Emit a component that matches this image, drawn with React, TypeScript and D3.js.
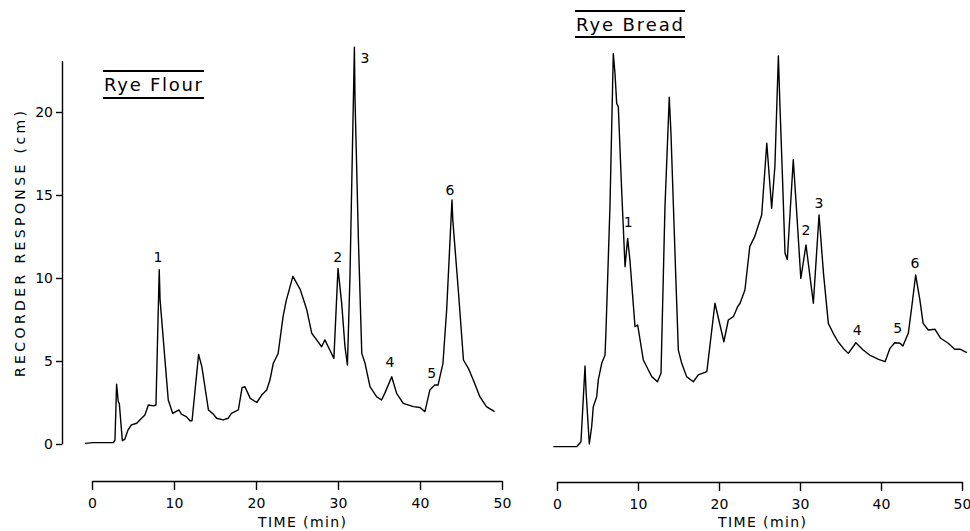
import React, { useEffect, useRef } from 'react';
import * as d3 from 'd3';

// Rye flour chromatogram (time in min, response in cm)
const flourTime = [-0.85, 0.16, 2.6, 2.8, 3.0, 3.2, 3.33, 3.7, 4.0, 4.4, 4.8, 5.45, 6.05, 6.45, 6.87, 7.5, 7.8, 8.2, 8.3, 8.9, 9.3, 9.84, 10.6, 10.9, 11.5, 11.95, 12.2, 13.0, 13.4, 14.2, 14.8, 15.2, 16.0, 16.6, 17.0, 17.85, 18.3, 18.65, 19.3, 20.1, 20.7, 21.3, 21.7, 22.1, 22.7, 23.3, 23.7, 24.5, 25.4, 26.2, 26.8, 27.4, 28.0, 28.4, 29.0, 29.5, 30.0, 30.45, 30.85, 31.15, 31.46, 32.0, 32.07, 32.5, 32.9, 33.3, 33.9, 34.7, 35.3, 35.7, 36.55, 37.15, 37.96, 39.2, 40.0, 40.6, 41.2, 41.8, 42.2, 42.8, 43.25, 43.9, 44.0, 44.7, 45.3, 45.9, 46.5, 47.3, 48.1, 49.1];
const flourResponse = [0.04, 0.08, 0.08, 0.24, 3.6, 2.55, 2.45, 0.2, 0.28, 0.85, 1.15, 1.25, 1.55, 1.75, 2.35, 2.3, 2.35, 10.5, 8.7, 5.05, 2.65, 1.85, 2.05, 1.8, 1.65, 1.4, 1.4, 5.4, 4.65, 2.05, 1.8, 1.55, 1.45, 1.55, 1.85, 2.05, 3.4, 3.45, 2.75, 2.5, 2.95, 3.25, 3.85, 4.85, 5.45, 7.67, 8.67, 10.1, 9.3, 8.07, 6.67, 6.27, 5.86, 6.27, 5.66, 5.16, 10.58, 8.47, 5.86, 4.76, 10.1, 23.9, 20.9, 12.1, 5.46, 4.86, 3.45, 2.85, 2.65, 3.05, 4.05, 3.05, 2.45, 2.25, 2.2, 1.95, 3.25, 3.55, 3.55, 4.86, 8.07, 14.7, 13.5, 9.08, 5.06, 4.56, 3.86, 2.85, 2.25, 1.95];

// Rye bread chromatogram
const breadTime = [-0.45, 2.43, 2.96, 3.46, 3.58, 3.99, 4.28, 4.48, 4.9, 5.1, 5.52, 5.93, 6.05, 6.54, 6.95, 7.16, 7.37, 7.57, 7.98, 8.4, 8.72, 9.0, 9.63, 9.96, 10.66, 11.28, 11.7, 12.4, 12.84, 13.33, 13.86, 14.07, 14.65, 14.98, 15.4, 16.0, 16.83, 17.44, 18.5, 19.5, 20.6, 21.15, 21.77, 22.3, 22.6, 23.2, 23.8, 24.4, 25.27, 25.9, 26.5, 26.9, 27.33, 27.53, 27.86, 28.15, 28.43, 29.17, 29.6, 30.1, 30.74, 31.65, 32.35, 32.9, 33.5, 34.1, 34.7, 35.35, 35.96, 36.9, 37.8, 38.6, 39.7, 40.5, 41.1, 41.7, 42.35, 42.7, 43.37, 43.8, 44.28, 44.8, 45.2, 45.84, 46.67, 47.37, 48.3, 49.1, 49.75, 50.6];
const breadResponse = [0.02, 0.02, 0.32, 4.88, 3.43, 0.18, 1.22, 2.43, 3.03, 4.04, 5.04, 5.54, 7.05, 14.5, 23.7, 22.5, 20.7, 20.5, 15.5, 10.86, 12.57, 11.27, 7.25, 7.35, 5.24, 4.64, 4.24, 3.93, 4.44, 14.48, 21.07, 18.9, 10.46, 5.84, 5.04, 4.24, 3.93, 4.34, 4.54, 8.66, 6.34, 7.65, 7.85, 8.45, 8.66, 9.46, 12.07, 12.67, 13.98, 18.3, 14.38, 16.9, 23.55, 20.5, 15.9, 11.67, 11.3, 17.3, 14.08, 10.16, 12.17, 8.66, 13.98, 10.46, 7.45, 6.85, 6.34, 5.94, 5.64, 6.28, 5.84, 5.54, 5.28, 5.14, 5.94, 6.28, 6.25, 6.08, 6.85, 8.45, 10.36, 8.86, 7.45, 7.05, 7.09, 6.55, 6.25, 5.89, 5.89, 5.68];

// numbered peak labels (label centre, data units)
const peakNames = ['1', '2', '3', '4', '5', '6'];
const flourLabelTime = [8.05, 29.96, 33.3, 36.34, 41.43, 43.66];
const flourLabelResp = [11.27, 11.28, 23.25, 4.96, 4.26, 15.3];
const breadLabelTime = [8.8, 30.74, 32.35, 37.07, 42.06, 44.2];
const breadLabelResp = [13.57, 13.07, 14.7, 7.05, 7.17, 11.08];

const timeTicks = [0, 10, 20, 30, 40, 50];
const responseTicks = [0, 5, 10, 15, 20];

const FONT = "'DejaVu Sans', sans-serif";

const App = () => {
  const ref = useRef<SVGSVGElement>(null);

  useEffect(() => {
    const svg = d3.select(ref.current);
    svg.selectAll('*').remove();

    const xL = d3.scaleLinear().domain([0, 50]).range([92, 502]);
    const xR = d3.scaleLinear().domain([0, 50]).range([557, 962]);
    const yL = d3.scaleLinear().domain([0, 23.1]).range([444, 444 - 23.1 * 16.6]);
    const yR = d3.scaleLinear().domain([0, 23.1]).range([447, 447 - 23.1 * 16.6]);

    const styleAxis = (g: any) => {
      g.selectAll('path, line').attr('stroke', '#000').attr('stroke-width', 1.4);
      g.selectAll('text')
        .attr('font-family', FONT)
        .attr('font-size', 14)
        .attr('fill', '#000');
    };

    // y axis (left panel only)
    svg
      .append('g')
      .attr('transform', 'translate(62,0)')
      .call(d3.axisLeft(yL).tickValues(responseTicks).tickSize(6).tickSizeOuter(0).tickPadding(3))
      .call(styleAxis);

    // x axes
    svg
      .append('g')
      .attr('transform', 'translate(0,481)')
      .call(d3.axisBottom(xL).tickValues(timeTicks).tickSize(9).tickSizeOuter(0).tickPadding(8))
      .call(styleAxis);
    svg
      .append('g')
      .attr('transform', 'translate(0,482)')
      .call(d3.axisBottom(xR).tickValues(timeTicks).tickSize(9).tickSizeOuter(0).tickPadding(8))
      .call(styleAxis);

    const panels = [
      { t: flourTime, r: flourResponse, lt: flourLabelTime, lr: flourLabelResp, x: xL, y: yL },
      { t: breadTime, r: breadResponse, lt: breadLabelTime, lr: breadLabelResp, x: xR, y: yR }
    ];

    panels.forEach(p => {
      const line = d3
        .line<number>()
        .x((d, i) => p.x(p.t[i]))
        .y(d => p.y(d));
      svg
        .append('path')
        .datum(p.r)
        .attr('d', line)
        .attr('fill', 'none')
        .attr('stroke', '#000')
        .attr('stroke-width', 1.4)
        .attr('stroke-linejoin', 'round');

      svg
        .selectAll(null)
        .data(peakNames)
        .enter()
        .append('text')
        .attr('x', (d, i) => p.x(p.lt[i]))
        .attr('y', (d, i) => p.y(p.lr[i]))
        .attr('dy', '0.36em')
        .attr('text-anchor', 'middle')
        .attr('font-family', FONT)
        .attr('font-size', 14)
        .text(d => d);
    });

    // titles with rules above and below
    const titles = [
      { text: 'Rye Flour', x: 104, w: 98, base: 91, top: 71, bottom: 98 },
      { text: 'Rye Bread', x: 576, w: 107, base: 31, top: 11, bottom: 37 }
    ];
    titles.forEach(t => {
      svg
        .append('text')
        .attr('x', t.x)
        .attr('y', t.base)
        .attr('textLength', t.w)
        .attr('lengthAdjust', 'spacing')
        .attr('font-family', FONT)
        .attr('font-size', 18)
        .text(t.text);
      [t.top, t.bottom].forEach(yy => {
        svg
          .append('line')
          .attr('x1', t.x - 1)
          .attr('x2', t.x + t.w + 2)
          .attr('y1', yy)
          .attr('y2', yy)
          .attr('stroke', '#000')
          .attr('stroke-width', 2);
      });
    });

    // axis titles
    svg
      .append('text')
      .attr('transform', 'translate(25,244) rotate(-90)')
      .attr('text-anchor', 'middle')
      .attr('textLength', 266)
      .attr('lengthAdjust', 'spacing')
      .attr('font-family', FONT)
      .attr('font-size', 14)
      .text('RECORDER RESPONSE (cm)');

    [302, 762].forEach(cx => {
      svg
        .append('text')
        .attr('x', cx)
        .attr('y', 527)
        .attr('text-anchor', 'middle')
        .attr('textLength', 88)
        .attr('lengthAdjust', 'spacing')
        .attr('font-family', FONT)
        .attr('font-size', 14)
        .text('TIME (min)');
    });
  }, []);

  return (
    <svg
      ref={ref}
      width={970}
      height={531}
      style={{ position: 'absolute', left: 0, top: 0, background: '#fff' }}
    />
  );
};

export default App;
